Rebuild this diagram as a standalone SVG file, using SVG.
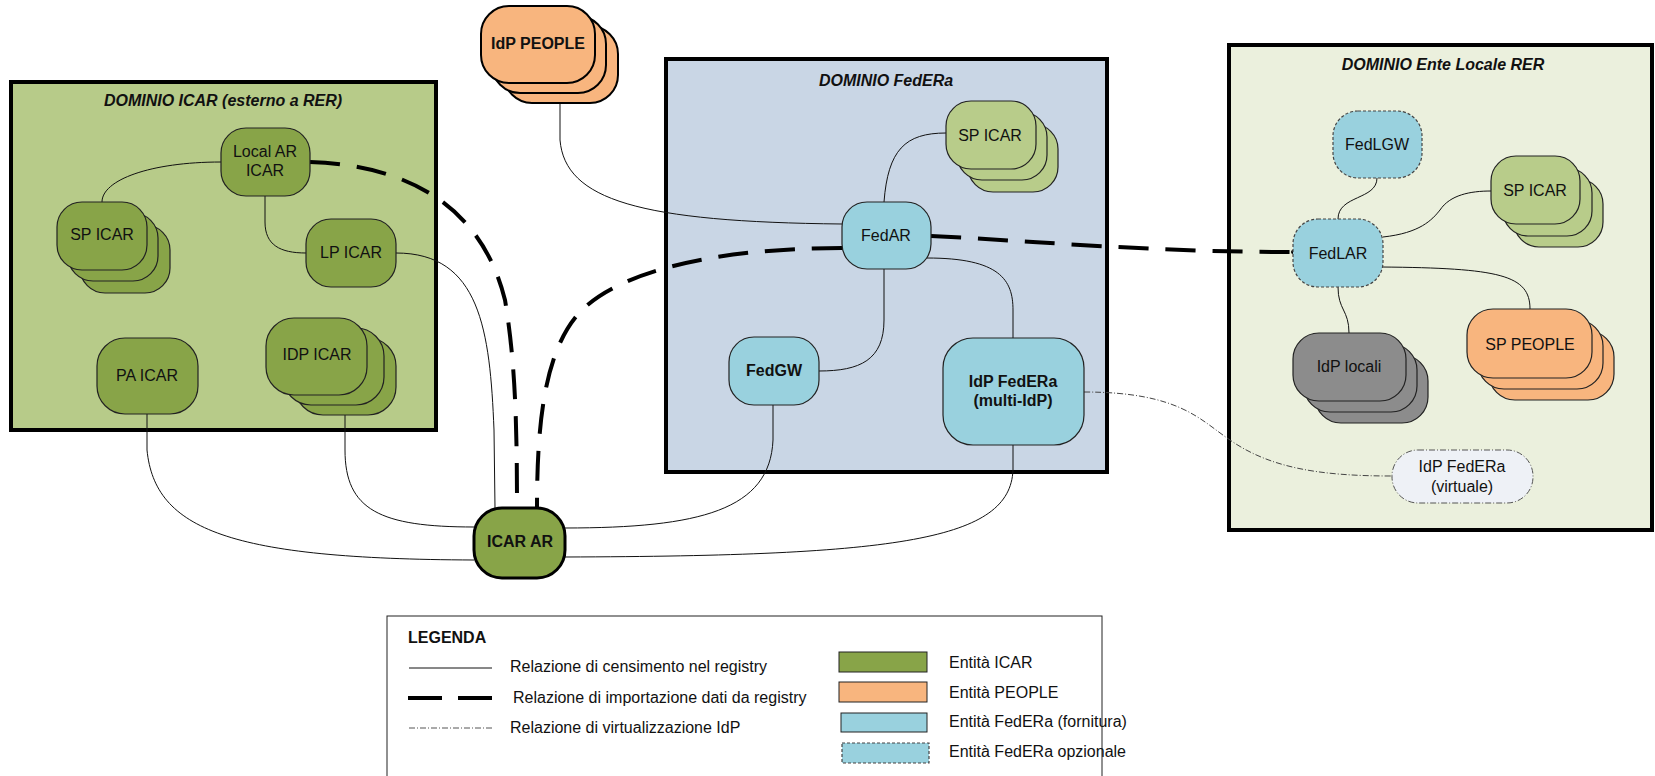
<svg xmlns="http://www.w3.org/2000/svg" width="1655" height="776" viewBox="0 0 1655 776">
<style>
text{font-family:"Liberation Sans",Arial,sans-serif;font-size:16px;fill:#111}
.t{text-anchor:middle}
.b{font-weight:bold}
.title{font-weight:bold;font-style:italic;text-anchor:middle}
.dom{stroke:#000;stroke-width:4}
.n{stroke:#222;stroke-width:1.2}
.icar{fill:#88a448}
.lg{fill:#b8cc8a}
.blue{fill:#99d1de}
.orange{fill:#f8b57e}
.grey{fill:#8c8c8c}
.opt{stroke:#444;stroke-width:1.2;stroke-dasharray:3,2}
.c{fill:none;stroke:#111;stroke-width:1}
.imp{fill:none;stroke:#000;stroke-width:4;stroke-dasharray:30,17}
.virt{fill:none;stroke:#444;stroke-width:1;stroke-dasharray:6,2,1,2}
</style>
<rect width="1655" height="776" fill="#fff"/>

<!-- Domains -->
<g id="dominio-icar">
<rect class="dom" x="11" y="82" width="425" height="348" fill="#b7cb89"/>
<text class="title" x="223" y="106">DOMINIO ICAR (esterno a RER)</text>
</g>
<g id="dominio-federa">
<rect class="dom" x="666" y="59" width="441" height="413" fill="#c9d6e5"/>
<text class="title" x="886" y="86">DOMINIO FedERa</text>
</g>
<g id="dominio-ente">
<rect class="dom" x="1229" y="45" width="423" height="485" fill="#ebf0dd"/>
<text class="title" x="1443" y="70">DOMINIO Ente Locale RER</text>
</g>

<!-- Connectors -->
<g id="connectors">
<path class="c" d="M221,162 C150,162 102,180 102,202"/>
<path class="c" d="M265,196 L265,222 C265,245 280,253 306,253"/>
<path class="c" d="M396,253 C480,253 490,330 494,430 L495,508"/>
<path class="c" d="M147,414 L147,450 C155,530 230,559 474,560"/>
<path class="c" d="M345,415 L345,450 C345,510 380,527 474,527"/>
<path class="c" d="M773,405 L773,440 C770,510 700,528 565,528"/>
<path class="c" d="M1013,445 L1013,470 C1010,540 900,556 565,557"/>
<path class="c" d="M560,103 L560,140 C565,200 640,222 842,224"/>
<path class="c" d="M884,202 C888,150 905,133 946,133"/>
<path class="c" d="M927,258 C1000,258 1013,280 1013,310 L1013,338"/>
<path class="c" d="M884,269 L884,320 C884,360 860,371 819,371"/>
<path class="c" d="M1377,178 C1377,200 1338,195 1338,219"/>
<path class="c" d="M1383,237 C1420,233 1432,220 1440,210 C1450,195 1470,191 1491,191"/>
<path class="c" d="M1381,267 C1500,268 1530,275 1530,309"/>
<path class="c" d="M1338,287 C1338,310 1349,310 1349,333"/>
<path class="imp" d="M310,162 C400,165 480,200 505,300 C515,360 517,420 517,508"/>
<path class="imp" d="M842,248 C720,248 620,270 580,312 C545,350 537,420 537,508"/>
<path class="imp" d="M931,236 C1050,242 1150,252 1293,252"/>
<circle cx="1293" cy="252" r="2" fill="#000"/>
<path class="virt" d="M1084,392 C1180,392 1200,420 1230,440 C1270,468 1320,476 1392,476"/>
</g>

<!-- ICAR domain nodes -->
<g id="local-ar-icar">
<rect class="n icar" x="221" y="128" width="89" height="68" rx="25"/>
<text class="t" x="265" y="157">Local AR</text>
<text class="t" x="265" y="176">ICAR</text>
</g>
<g id="sp-icar-1">
<rect class="n icar" x="80" y="225" width="90" height="68" rx="25"/>
<rect class="n icar" x="68" y="213" width="90" height="68" rx="25"/>
<rect class="n icar" x="57" y="202" width="90" height="68" rx="25"/>
<text class="t" x="102" y="240">SP ICAR</text>
</g>
<g id="lp-icar">
<rect class="n icar" x="306" y="219" width="90" height="68" rx="25"/>
<text class="t" x="351" y="258">LP ICAR</text>
</g>
<g id="pa-icar">
<rect class="n icar" x="97" y="338" width="101" height="76" rx="28"/>
<text class="t" x="147" y="381">PA ICAR</text>
</g>
<g id="idp-icar">
<rect class="n icar" x="295" y="338" width="101" height="77" rx="28"/>
<rect class="n icar" x="283" y="328" width="101" height="77" rx="28"/>
<rect class="n icar" x="266" y="318" width="101" height="77" rx="28"/>
<text class="t" x="317" y="360">IDP ICAR</text>
</g>
<g id="icar-ar">
<rect x="474" y="508" width="91" height="70" rx="28" fill="#88a448" stroke="#000" stroke-width="3"/>
<text class="t b" x="520" y="547">ICAR AR</text>
</g>

<!-- IdP PEOPLE -->
<g id="idp-people">
<rect class="orange" x="504" y="26" width="114" height="77" rx="28" stroke="#000" stroke-width="2"/>
<rect class="orange" x="492" y="16" width="114" height="77" rx="28" stroke="#000" stroke-width="2"/>
<rect class="orange" x="481" y="6" width="114" height="77" rx="28" stroke="#000" stroke-width="2"/>
<text class="t b" x="538" y="49">IdP PEOPLE</text>
</g>

<!-- FedERa domain nodes -->
<g id="sp-icar-2">
<rect class="n lg" x="968" y="124" width="90" height="68" rx="25"/>
<rect class="n lg" x="957" y="112" width="90" height="68" rx="25"/>
<rect class="n lg" x="946" y="101" width="90" height="68" rx="25"/>
<text class="t" x="990" y="141">SP ICAR</text>
</g>
<g id="fedar">
<rect class="n blue" x="842" y="202" width="89" height="67" rx="25"/>
<text class="t" x="886" y="241">FedAR</text>
</g>
<g id="fedgw">
<rect class="n blue" x="729" y="337" width="90" height="68" rx="25"/>
<text class="t b" x="774" y="376">FedGW</text>
</g>
<g id="idp-federa-multi">
<rect class="n blue" x="943" y="338" width="141" height="107" rx="30"/>
<text class="t b" x="1013" y="387">IdP FedERa</text>
<text class="t b" x="1013" y="406">(multi-IdP)</text>
</g>

<!-- Ente Locale nodes -->
<g id="fedlgw">
<rect class="opt blue" x="1333" y="111" width="89" height="67" rx="25"/>
<text class="t" x="1377" y="150">FedLGW</text>
</g>
<g id="fedlar">
<rect class="opt blue" x="1293" y="219" width="90" height="68" rx="25"/>
<text class="t" x="1338" y="259">FedLAR</text>
</g>
<g id="sp-icar-3">
<rect class="n lg" x="1514" y="179" width="89" height="68" rx="25"/>
<rect class="n lg" x="1503" y="168" width="89" height="68" rx="25"/>
<rect class="n lg" x="1491" y="156" width="89" height="68" rx="25"/>
<text class="t" x="1535" y="196">SP ICAR</text>
</g>
<g id="sp-people">
<rect class="n orange" x="1489" y="331" width="125" height="69" rx="26"/>
<rect class="n orange" x="1478" y="320" width="125" height="69" rx="26"/>
<rect class="n orange" x="1467" y="309" width="125" height="69" rx="26"/>
<text class="t" x="1530" y="350">SP PEOPLE</text>
</g>
<g id="idp-locali">
<rect class="n grey" x="1315" y="355" width="113" height="68" rx="26"/>
<rect class="n grey" x="1304" y="344" width="113" height="68" rx="26"/>
<rect class="n grey" x="1293" y="333" width="113" height="68" rx="26"/>
<text class="t" x="1349" y="372">IdP locali</text>
</g>
<g id="idp-federa-virtuale">
<rect x="1392" y="450" width="141" height="53" rx="26" fill="#eef1f6" stroke="#555" stroke-width="1" stroke-dasharray="6,2,1,2"/>
<text class="t" x="1462" y="472">IdP FedERa</text>
<text class="t" x="1462" y="492">(virtuale)</text>
</g>

<!-- Legend -->
<g id="legenda">
<rect x="387" y="616" width="715" height="170" fill="#fff" stroke="#222" stroke-width="1"/>
<text class="b" x="408" y="643">LEGENDA</text>
<line x1="409" y1="668" x2="492" y2="668" stroke="#111" stroke-width="1"/>
<text x="510" y="672">Relazione di censimento nel registry</text>
<line x1="408" y1="698" x2="492" y2="698" stroke="#000" stroke-width="4" stroke-dasharray="34,16"/>
<text x="513" y="703">Relazione di importazione dati da registry</text>
<line x1="409" y1="728" x2="492" y2="728" stroke="#555" stroke-width="1" stroke-dasharray="6,2,1,2"/>
<text x="510" y="733">Relazione di virtualizzazione IdP</text>
<rect x="839" y="652" width="88" height="20" fill="#88a448" stroke="#222" stroke-width="1"/>
<text x="949" y="668">Entità ICAR</text>
<rect x="839" y="682" width="88" height="20" fill="#f8b57e" stroke="#222" stroke-width="1"/>
<text x="949" y="698">Entità PEOPLE</text>
<rect x="841" y="713" width="86" height="19" fill="#99d1de" stroke="#222" stroke-width="1"/>
<text x="949" y="727">Entità FedERa (fornitura)</text>
<rect x="842" y="743" width="87" height="20" fill="#99d1de" stroke="#444" stroke-width="1.2" stroke-dasharray="3,2"/>
<text x="949" y="757">Entità FedERa opzionale</text>
</g>
</svg>
